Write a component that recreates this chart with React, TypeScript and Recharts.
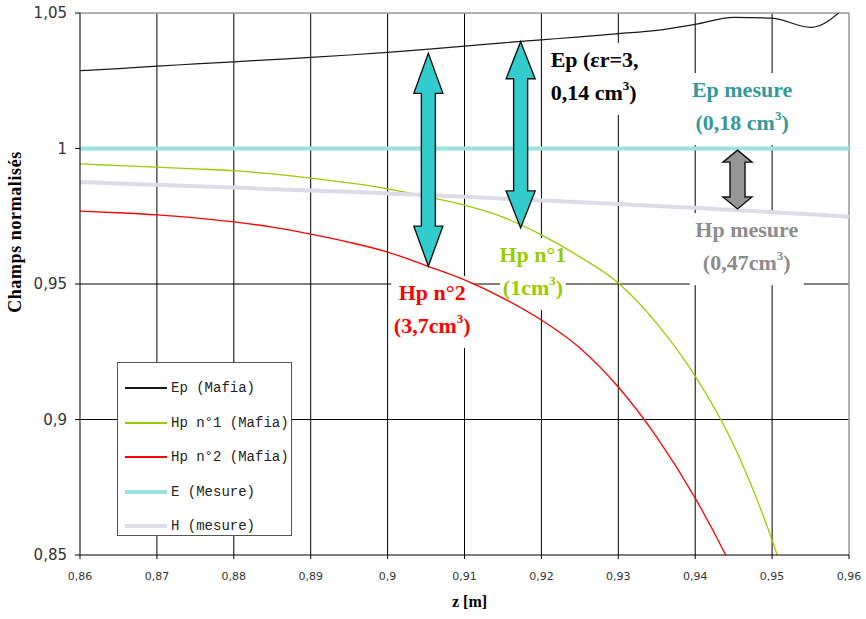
import {
  LineChart,
  Line,
  XAxis,
  YAxis,
  CartesianGrid,
  ReferenceLine,
  ReferenceDot,
  Legend,
} from 'recharts';

// z [m]
const zValues = [
  0.86, 0.865, 0.87, 0.875, 0.88, 0.885, 0.89, 0.895, 0.9, 0.905, 0.91,
  0.915, 0.92, 0.925, 0.93, 0.935, 0.94, 0.945, 0.95, 0.955, 0.96,
];

const epMafia = [
  1.0287, 1.0295, 1.0304, 1.0312, 1.032, 1.0328, 1.0336, 1.0345, 1.0355,
  1.0366, 1.0378, 1.039, 1.0401, 1.0412, 1.0424, 1.0436, 1.0458, 1.0484,
  1.0481, 1.0447, 1.0535,
];
const hp1Mafia = [
  0.9943, 0.9937, 0.9931, 0.9925, 0.9918, 0.9906, 0.9891, 0.9873, 0.9851,
  0.9823, 0.9791, 0.9747, 0.9681, 0.96, 0.9504, 0.9355, 0.916, 0.8906,
  0.8555, 0.81, 0.76,
];
const hp2Mafia = [
  0.9769, 0.9763, 0.9755, 0.9744, 0.9729, 0.971, 0.9684, 0.9654, 0.9618,
  0.9568, 0.9515, 0.9448, 0.9367, 0.9264, 0.912, 0.8935, 0.871, 0.844,
  0.812, 0.77, 0.72,
];
const eMesure = [
  1, 1, 1, 1, 1, 1, 1, 1, 1, 1, 1, 1, 1, 1, 1, 1, 1, 1, 1, 1, 1,
];
const hMesure = [
  0.9876, 0.9871, 0.9866, 0.9861, 0.9856, 0.985, 0.9845, 0.984, 0.9834,
  0.9828, 0.9822, 0.9815, 0.9808, 0.9802, 0.9795, 0.9788, 0.9781, 0.9773,
  0.9765, 0.9757, 0.9748,
];

const xTicks = [0.86, 0.87, 0.88, 0.89, 0.9, 0.91, 0.92, 0.93, 0.94, 0.95, 0.96];
const yTicks = [0.85, 0.9, 0.95, 1, 1.05];

// double arrows between curves: position z, from y, to y
const arrowZ = [0.9053, 0.9173, 0.9455];
const arrowFrom = [1.0351, 1.0394, 0.9994];
const arrowTo = [0.9566, 0.9707, 0.9777];

const data = zValues.map((z, i) => ({
  z,
  ep: epMafia[i],
  hp1: hp1Mafia[i],
  hp2: hp2Mafia[i],
  e: eMesure[i],
  h: hMesure[i],
}));

const series = [
  { key: 'ep', name: 'Ep (Mafia)', color: '#1a1a1a', width: 1.2 },
  { key: 'hp1', name: 'Hp n°1 (Mafia)', color: '#99cc00', width: 1.3 },
  { key: 'hp2', name: 'Hp n°2 (Mafia)', color: '#ff0000', width: 1.3 },
  { key: 'e', name: 'E (Mesure)', color: '#99e3e3', width: 4 },
  { key: 'h', name: 'H (mesure)', color: '#dcdce8', width: 4 },
];

const arrowStyles = [
  { fill: '#33cccc', head: 40, headW: 29, shaft: 14 },
  { fill: '#33cccc', head: 37, headW: 29, shaft: 14 },
  { fill: '#969696', head: 12, headW: 29, shaft: 15 },
];

const fmt = (v: number) => String(Number(v.toFixed(2))).replace('.', ',');

const serif = '"Liberation Serif", "Times New Roman", serif';

function DoubleArrow(props: any) {
  const { x1, y1, x2, y2, fill, head, headW, shaft } = props;
  const x = (x1 + x2) / 2;
  const top = Math.min(y1, y2);
  const bot = Math.max(y1, y2);
  const hw = headW / 2;
  const sw = shaft / 2;
  const pts = [
    [x, top],
    [x + hw, top + head],
    [x + sw, top + head],
    [x + sw, bot - head],
    [x + hw, bot - head],
    [x, bot],
    [x - hw, bot - head],
    [x - sw, bot - head],
    [x - sw, top + head],
    [x - hw, top + head],
  ]
    .map((p) => p.join(','))
    .join(' ');
  return <polygon points={pts} fill={fill} stroke="#111" strokeWidth={1.4} strokeLinejoin="miter" />;
}

function Sup({ pre, post }: { pre: string; post: string }) {
  return (
    <>
      {pre}
      <tspan fontSize={13} dy={-10}>3</tspan>
      <tspan dy={10}>{post}</tspan>
    </>
  );
}

interface NoteProps {
  cx?: number;
  cy?: number;
  color: string;
  anchor: 'start' | 'middle';
  boxW: number;
  lines: any[];
}

function NoteBox({ cx = 0, cy = 0, anchor, boxW, lines }: NoteProps) {
  const bx = anchor === 'middle' ? cx - boxW / 2 : cx - 4;
  return <rect x={bx} y={cy - 24} width={boxW} height={lines.length * 33 + 6} fill="#fff" />;
}

function NoteText({ cx = 0, cy = 0, color, anchor, lines }: NoteProps) {
  return (
    <text
      x={cx}
      y={cy}
      textAnchor={anchor}
      fill={color}
      fontFamily={serif}
      fontWeight="bold"
      fontSize={22}
    >
      {lines.map((l, i) => (
        <tspan key={i} x={cx} dy={i === 0 ? 0 : 33}>
          {l}
        </tspan>
      ))}
    </text>
  );
}

const notes = [
  {
    z: 0.9212, y: 1.0301, color: '#000', anchor: 'start' as const, boxW: 100,
    lines: ['Ep (εr=3,', <Sup pre="0,14 cm" post=")" />],
  },
  {
    z: 0.9461, y: 1.019, color: '#339999', anchor: 'middle' as const, boxW: 116,
    lines: ['Ep mesure', <Sup pre="(0,18 cm" post=")" />],
  },
  {
    z: 0.9189, y: 0.9581, color: '#99cc00', anchor: 'middle' as const, boxW: 66,
    lines: ['Hp n°1', <Sup pre="(1cm" post=")" />],
  },
  {
    z: 0.9058, y: 0.9441, color: '#ff0000', anchor: 'middle' as const, boxW: 82,
    lines: ['Hp n°2', <Sup pre="(3,7cm" post=")" />],
  },
  {
    z: 0.9467, y: 0.9673, color: '#8c8c8c', anchor: 'middle' as const, boxW: 114,
    lines: ['Hp mesure', <Sup pre="(0,47cm" post=")" />],
  },
];

function LegendBox() {
  return (
    <div
      style={{
        width: 175,
        height: 174,
        boxSizing: 'border-box',
        border: '1px solid #555',
        background: '#fff',
        paddingTop: 8,
      }}
    >
      {series.map((s) => (
        <div key={s.key} style={{ display: 'flex', alignItems: 'center', height: 34.5 }}>
          <div
            style={{
              marginLeft: 7,
              width: 42,
              height: 0,
              borderTop: `${s.width > 2 ? 4 : 2}px solid ${s.color}`,
            }}
          />
          <span
            style={{
              marginLeft: 4,
              fontFamily: '"Liberation Mono", monospace',
              fontSize: 14,
              color: '#222',
              whiteSpace: 'nowrap',
            }}
          >
            {s.name}
          </span>
        </div>
      ))}
    </div>
  );
}

export default function App() {
  return (
    <div style={{ position: 'absolute', left: 0, top: 0, background: '#fff' }}>
      <LineChart
        width={866}
        height={619}
        data={data}
        margin={{ top: 13, right: 17, left: 20, bottom: 14 }}
      >
        <CartesianGrid
          stroke="#000"
          strokeWidth={1}
          horizontalValues={[0.9, 0.95, 1]}
          verticalValues={[0.87, 0.88, 0.89, 0.9, 0.91, 0.92, 0.93, 0.94, 0.95]}
        />
        <XAxis
          dataKey="z"
          type="number"
          domain={[0.86, 0.96]}
          ticks={xTicks}
          tickFormatter={fmt}
          height={50}
          tickSize={4}
          tickMargin={13}
          stroke="#000"
          tick={{ fill: '#333', fontSize: 11, fontFamily: '"DejaVu Sans", sans-serif' }}
          label={(p: any) => {
            const vb = p.viewBox;
            return (
              <text
                x={vb.x + vb.width / 2 + 5}
                y={vb.y + vb.height + 2}
                textAnchor="middle"
                fontFamily={serif}
                fontWeight="bold"
                fontSize={16}
              >
                z [m]
              </text>
            );
          }}
        />
        <YAxis
          type="number"
          domain={[0.85, 1.05]}
          ticks={yTicks}
          allowDataOverflow
          tickFormatter={fmt}
          width={60}
          tickSize={5}
          tickMargin={8}
          stroke="#000"
          tick={{ fill: '#333', fontSize: 15, fontFamily: '"DejaVu Sans", sans-serif' }}
          label={(p: any) => {
            const vb = p.viewBox;
            const x = vb.x - 12;
            const y = vb.y + vb.height / 2 - 52;
            return (
              <text
                x={x}
                y={y}
                transform={`rotate(-90 ${x} ${y})`}
                textAnchor="middle"
                dominantBaseline="hanging"
                fontFamily={serif}
                fontWeight="bold"
                fontSize={18}
                letterSpacing={0.6}
              >
                Champs normalisés
              </text>
            );
          }}
        />
        {notes.map((n, i) => (
          <ReferenceDot
            key={'b' + i}
            x={n.z}
            y={n.y}
            r={0}
            zIndex={-50}
            shape={(p: any) => (
              <NoteBox cx={p.cx} cy={p.cy} color={n.color} anchor={n.anchor} boxW={n.boxW} lines={n.lines} />
            )}
          />
        ))}
        <ReferenceLine y={1.05} stroke="#999" strokeWidth={1.5} />
        <ReferenceLine x={0.96} stroke="#999" strokeWidth={1.5} />
        <Legend
          layout="vertical"
          align="center"
          verticalAlign="middle"
          content={() => <LegendBox />}
          wrapperStyle={{ left: 117, top: 362, width: 175, height: 174 }}
        />
        {series.map((s) => (
          <Line
            key={s.key}
            type="monotone"
            dataKey={s.key}
            name={s.name}
            stroke={s.color}
            strokeWidth={s.width}
            dot={false}
            activeDot={false}
            isAnimationActive={false}
          />
        ))}
        {arrowZ.map((z, i) => (
          <ReferenceLine
            key={'a' + i}
            segment={[
              { x: z, y: arrowFrom[i] },
              { x: z, y: arrowTo[i] },
            ]}
            shape={(p: any) => <DoubleArrow {...p} {...arrowStyles[i]} />}
          />
        ))}
        {notes.map((n, i) => (
          <ReferenceDot
            key={'t' + i}
            x={n.z}
            y={n.y}
            r={0}
            shape={(p: any) => (
              <NoteText cx={p.cx} cy={p.cy} color={n.color} anchor={n.anchor} boxW={n.boxW} lines={n.lines} />
            )}
          />
        ))}
      </LineChart>
    </div>
  );
}
